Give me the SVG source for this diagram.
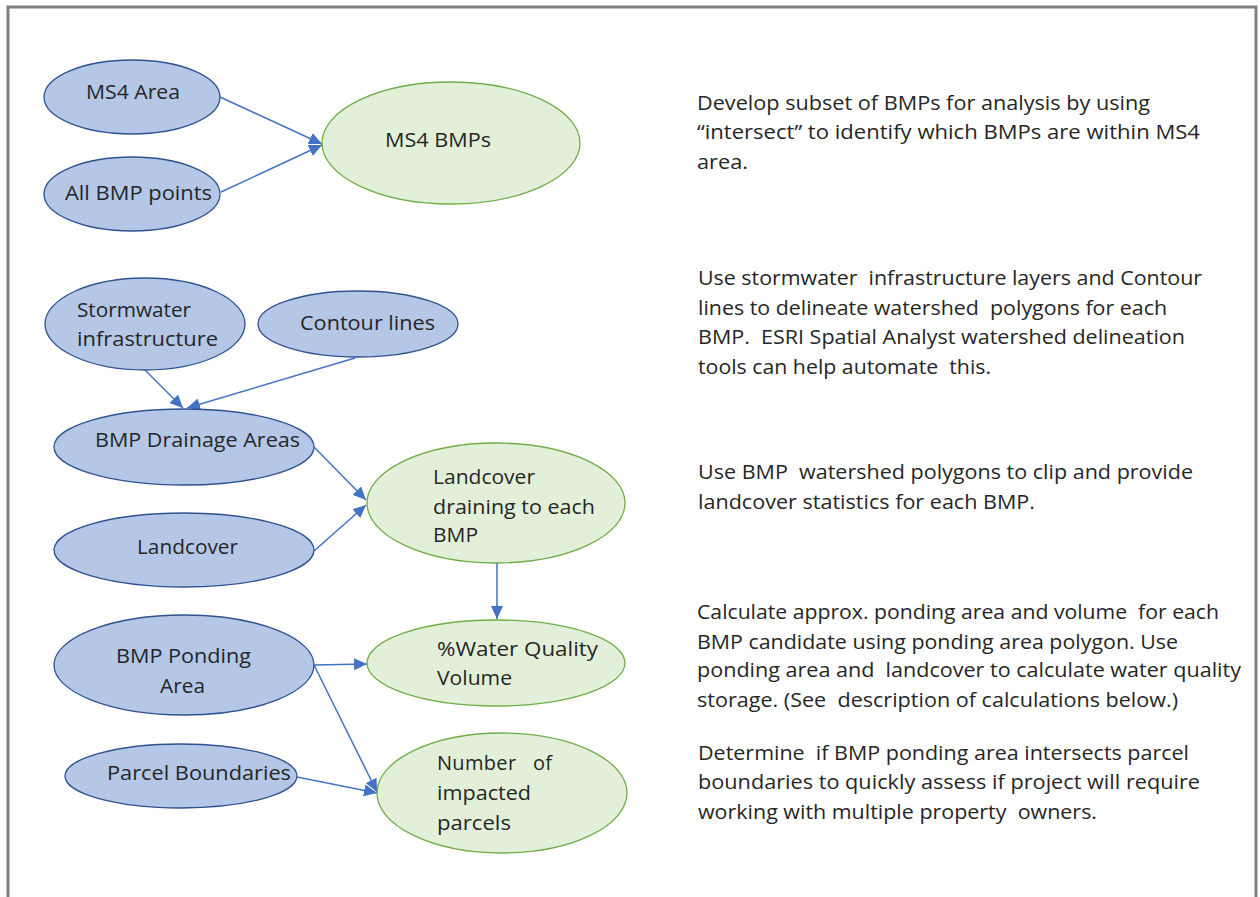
<svg xmlns="http://www.w3.org/2000/svg" width="1260" height="897" viewBox="0 0 1260 897">
<defs>
<style>
.bg{fill:#ffffff}
.frame{fill:none;stroke:#808080;stroke-width:3}
.blue{fill:#b4c7e7;stroke:#2f528f;stroke-width:1.3}
.green{fill:#e2f0d9;stroke:#70ad47;stroke-width:1.3}
.t{font-family:"Open Sans","Liberation Sans",sans-serif;font-size:20px;fill:#262626;white-space:pre}
.c{fill:none;stroke:#4472c4;stroke-width:1.5;marker-end:url(#arr)}
</style>
<marker id="arr" markerUnits="userSpaceOnUse" markerWidth="14" markerHeight="12" refX="13" refY="6" orient="auto">
<path d="M0,0 L13,6 L0,12 z" fill="#4472c4"/>
</marker>
</defs>
<rect class="bg" x="0" y="0" width="1260" height="897"/>
<rect class="frame" x="8" y="7" width="1248" height="900"/>

<g id="connectors">
<line class="c" x1="220" y1="97" x2="322" y2="144"/>
<line class="c" x1="221" y1="192" x2="322" y2="145"/>
<line class="c" x1="145" y1="370" x2="183" y2="408"/>
<line class="c" x1="355" y1="358" x2="187" y2="408"/>
<line class="c" x1="314" y1="447" x2="366" y2="500"/>
<line class="c" x1="314" y1="551" x2="366" y2="505"/>
<line class="c" x1="497" y1="563" x2="497" y2="619"/>
<line class="c" x1="314" y1="665" x2="367" y2="664"/>
<line class="c" x1="314" y1="665" x2="377" y2="792"/>
<line class="c" x1="297" y1="777" x2="377" y2="793"/>
</g>

<g id="ms4-area">
<ellipse class="blue" cx="132" cy="97" rx="88" ry="37"/>
<text class="t" x="86" y="99" textLength="94" lengthAdjust="spacingAndGlyphs">MS4 Area</text>
</g>
<g id="all-bmp-points">
<ellipse class="blue" cx="132" cy="194" rx="88" ry="37"/>
<text class="t" x="65" y="200" textLength="147" lengthAdjust="spacingAndGlyphs">All BMP points</text>
</g>
<g id="ms4-bmps">
<ellipse class="green" cx="451" cy="143" rx="129" ry="61"/>
<text class="t" x="385" y="147" textLength="106" lengthAdjust="spacingAndGlyphs">MS4 BMPs</text>
</g>
<g id="stormwater">
<ellipse class="blue" cx="145" cy="324" rx="100" ry="46"/>
<text class="t" x="77" y="317" textLength="114" lengthAdjust="spacingAndGlyphs">Stormwater</text>
<text class="t" x="77" y="346" textLength="141" lengthAdjust="spacingAndGlyphs">infrastructure</text>
</g>
<g id="contour-lines">
<ellipse class="blue" cx="358" cy="324" rx="100" ry="33"/>
<text class="t" x="300" y="330" textLength="135" lengthAdjust="spacingAndGlyphs">Contour lines</text>
</g>
<g id="bmp-drainage-areas">
<ellipse class="blue" cx="184" cy="447" rx="130" ry="38"/>
<text class="t" x="95" y="447" textLength="205" lengthAdjust="spacingAndGlyphs">BMP Drainage Areas</text>
</g>
<g id="landcover">
<ellipse class="blue" cx="184" cy="550" rx="130" ry="37"/>
<text class="t" x="137" y="554" textLength="101" lengthAdjust="spacingAndGlyphs">Landcover</text>
</g>
<g id="landcover-draining">
<ellipse class="green" cx="496" cy="503" rx="129" ry="60"/>
<text class="t" x="433" y="484" textLength="102" lengthAdjust="spacingAndGlyphs">Landcover</text>
<text class="t" x="433" y="514" textLength="162" lengthAdjust="spacingAndGlyphs">draining to each</text>
<text class="t" x="433" y="542" textLength="45" lengthAdjust="spacingAndGlyphs">BMP</text>
</g>
<g id="water-quality-volume">
<ellipse class="green" cx="496" cy="663" rx="129" ry="43"/>
<text class="t" x="437" y="656" textLength="161" lengthAdjust="spacingAndGlyphs">%Water Quality</text>
<text class="t" x="437" y="685" textLength="75" lengthAdjust="spacingAndGlyphs">Volume</text>
</g>
<g id="bmp-ponding-area">
<ellipse class="blue" cx="184" cy="665" rx="130" ry="50"/>
<text class="t" x="116" y="663" textLength="135" lengthAdjust="spacingAndGlyphs">BMP Ponding</text>
<text class="t" x="160" y="693" textLength="45" lengthAdjust="spacingAndGlyphs">Area</text>
</g>
<g id="parcel-boundaries">
<ellipse class="blue" cx="181" cy="776" rx="116" ry="32"/>
<text class="t" x="107" y="780" textLength="184" lengthAdjust="spacingAndGlyphs">Parcel Boundaries</text>
</g>
<g id="impacted-parcels">
<ellipse class="green" cx="502" cy="793" rx="125" ry="60"/>
<text class="t" x="437" y="770" textLength="115" lengthAdjust="spacing">Number   of</text>
<text class="t" x="437" y="800" textLength="94" lengthAdjust="spacingAndGlyphs">impacted</text>
<text class="t" x="437" y="830" textLength="74" lengthAdjust="spacingAndGlyphs">parcels</text>
</g>

<g id="notes">
<text class="t" x="697" y="110" textLength="453" lengthAdjust="spacingAndGlyphs">Develop subset of BMPs for analysis by using</text>
<text class="t" x="697" y="139" textLength="503" lengthAdjust="spacingAndGlyphs">“intersect” to identify which BMPs are within MS4</text>
<text class="t" x="697" y="169" textLength="51" lengthAdjust="spacingAndGlyphs">area.</text>

<text class="t" x="698" y="285" textLength="504" lengthAdjust="spacingAndGlyphs">Use stormwater  infrastructure layers and Contour</text>
<text class="t" x="698" y="315" textLength="469" lengthAdjust="spacingAndGlyphs">lines to delineate watershed  polygons for each</text>
<text class="t" x="698" y="344" textLength="487" lengthAdjust="spacingAndGlyphs">BMP.  ESRI Spatial Analyst watershed delineation</text>
<text class="t" x="698" y="374" textLength="293" lengthAdjust="spacingAndGlyphs">tools can help automate  this.</text>

<text class="t" x="698" y="479" textLength="495" lengthAdjust="spacingAndGlyphs">Use BMP  watershed polygons to clip and provide</text>
<text class="t" x="698" y="509" textLength="337" lengthAdjust="spacingAndGlyphs">landcover statistics for each BMP.</text>

<text class="t" x="697" y="619" textLength="522" lengthAdjust="spacingAndGlyphs">Calculate approx. ponding area and volume  for each</text>
<text class="t" x="697" y="649" textLength="481" lengthAdjust="spacingAndGlyphs">BMP candidate using ponding area polygon. Use</text>
<text class="t" x="697" y="677" textLength="544" lengthAdjust="spacingAndGlyphs">ponding area and  landcover to calculate water quality</text>
<text class="t" x="697" y="707" textLength="481" lengthAdjust="spacingAndGlyphs">storage. (See  description of calculations below.)</text>

<text class="t" x="698" y="760" textLength="491" lengthAdjust="spacingAndGlyphs">Determine  if BMP ponding area intersects parcel</text>
<text class="t" x="698" y="789" textLength="502" lengthAdjust="spacingAndGlyphs">boundaries to quickly assess if project will require</text>
<text class="t" x="698" y="819" textLength="399" lengthAdjust="spacingAndGlyphs">working with multiple property  owners.</text>
</g>
</svg>
